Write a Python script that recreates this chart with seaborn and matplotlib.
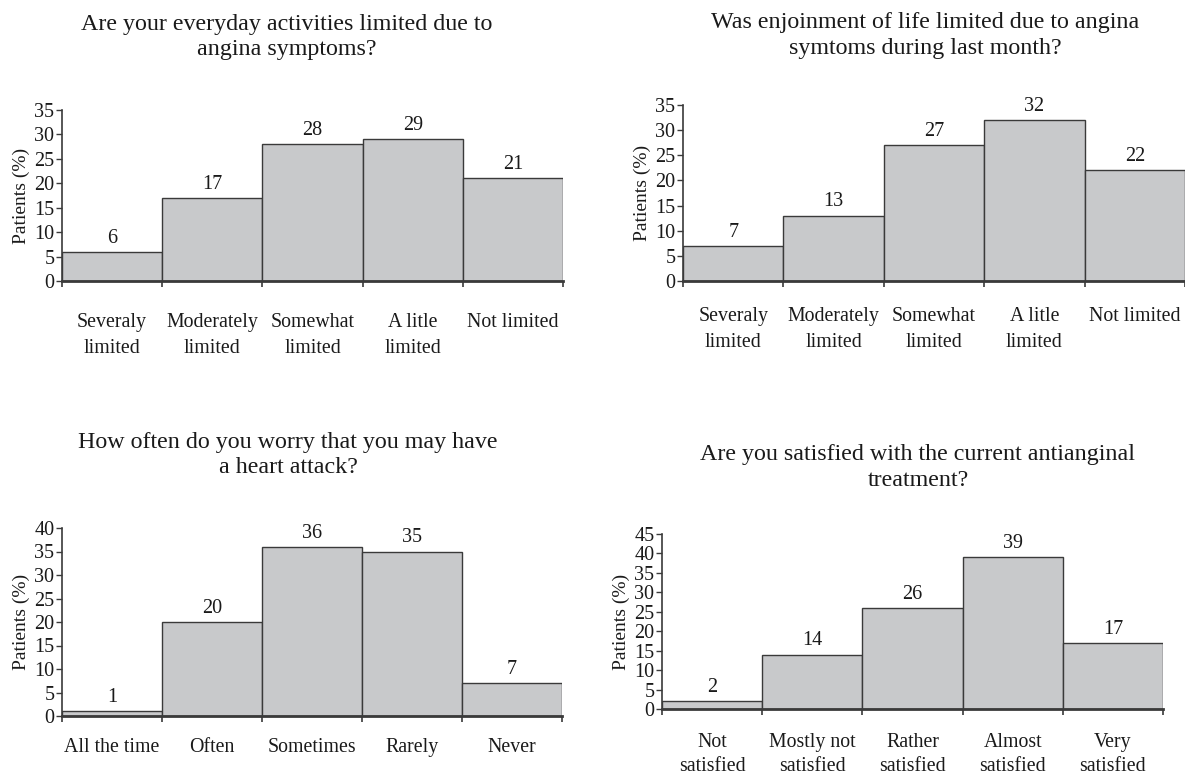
import matplotlib
matplotlib.use("Agg")
import matplotlib.pyplot as plt
import seaborn as sns
import pandas as pd
import numpy as np

sns.set_style("ticks")
plt.rcParams["font.family"] = ["Liberation Serif", "DejaVu Serif"]

# Survey answers and percentages of patients
limit_labels = ["Severaly\nlimited", "Moderately\nlimited", "Somewhat\nlimited",
                "A litle\nlimited", "Not limited"]
activities_pct = [6, 17, 28, 29, 21]
enjoyment_pct = [7, 13, 27, 32, 22]

worry_labels = ["All the time", "Often", "Sometimes", "Rarely", "Never"]
worry_pct = [1, 20, 36, 35, 7]

satisfied_labels = ["Not\nsatisfied", "Mostly not\nsatisfied", "Rather\nsatisfied",
                    "Almost\nsatisfied", "Very\nsatisfied"]
satisfied_pct = [2, 14, 26, 39, 17]

titles = [
    "Are your everyday activities limited due to\nangina symptoms?",
    "Was enjoinment of life limited due to angina\nsymtoms during last month?",
    "How often do you worry that you may have\na heart attack?",
    "Are you satisfied with the current antianginal\ntreatment?",
]

W, H = 1185, 776
fig = plt.figure(figsize=(W / 100, H / 100), dpi=100)


def px_axes(left, right, bottom, top):
    return fig.add_axes([left / W, 1 - bottom / H, (right - left) / W, (bottom - top) / H])


panels = [
    dict(box=(62, 563, 281, 110), labels=limit_labels, vals=activities_pct, ymax=35,
         title_xy=(287, 37), pad=23, ls=1.5),
    dict(box=(683, 1185, 281, 105), labels=limit_labels, vals=enjoyment_pct, ymax=35,
         title_xy=(925, 35.5), pad=19, ls=1.5),
    dict(box=(62, 562, 716, 528), labels=worry_labels, vals=worry_pct, ymax=40,
         title_xy=(288, 455), pad=16, ls=1.5),
    dict(box=(662, 1163, 709, 534), labels=satisfied_labels, vals=satisfied_pct, ymax=45,
         title_xy=(918, 467.5), pad=17, ls=1.42),
]

bar_face = "#c8c9cb"
edge = "#3a3a3a"
text_col = "#1a1a1a"

for p, title in zip(panels, titles):
    ax = px_axes(*p["box"])
    df = pd.DataFrame({"answer": p["labels"], "pct": p["vals"]})
    sns.barplot(data=df, x="answer", y="pct", order=p["labels"], width=1.0,
                color=bar_face, edgecolor=edge, linewidth=1.0, saturation=1,
                ax=ax, zorder=2)
    n = len(p["labels"])
    ax.set_xlim(-0.5, n - 0.5)
    ax.set_ylim(0, p["ymax"])
    ax.set_yticks(np.arange(0, p["ymax"] + 1, 5))
    ax.set_xlabel("")
    ax.set_ylabel("Patients (%)", fontsize=14, color=text_col, labelpad=3)

    # category labels sit between ticks drawn at the bar boundaries
    ax.set_xticks(np.arange(n))
    ax.set_xticklabels(p["labels"], fontsize=14.3, color=text_col, linespacing=p["ls"])
    ax.set_xticks(np.arange(-0.5, n, 1.0), minor=True)
    ax.tick_params(axis="x", which="major", length=0, pad=p["pad"])
    ax.tick_params(axis="x", which="minor", length=4, width=1.2, color=edge, direction="out")
    ax.tick_params(axis="y", length=4, width=1.0, color=edge, labelsize=14.5,
                   labelcolor=text_col, pad=1.5)

    for side in ("top", "right"):
        ax.spines[side].set_visible(False)
    ax.spines["left"].set_color(edge)
    ax.spines["left"].set_linewidth(1.2)
    ax.spines["bottom"].set_color(edge)
    ax.spines["bottom"].set_linewidth(2.0)
    ax.spines["bottom"].set_zorder(3)

    for container in ax.containers:
        ax.bar_label(container, labels=[str(v) for v in p["vals"]], padding=3,
                     fontsize=14.5, color=text_col)

    tx, ty = p["title_xy"]
    fig.text(tx / W, 1 - ty / H, title, ha="center", va="center", fontsize=17.3,
             color=text_col, linespacing=1.3)

fig.savefig("out.png", dpi=100, facecolor="white")
